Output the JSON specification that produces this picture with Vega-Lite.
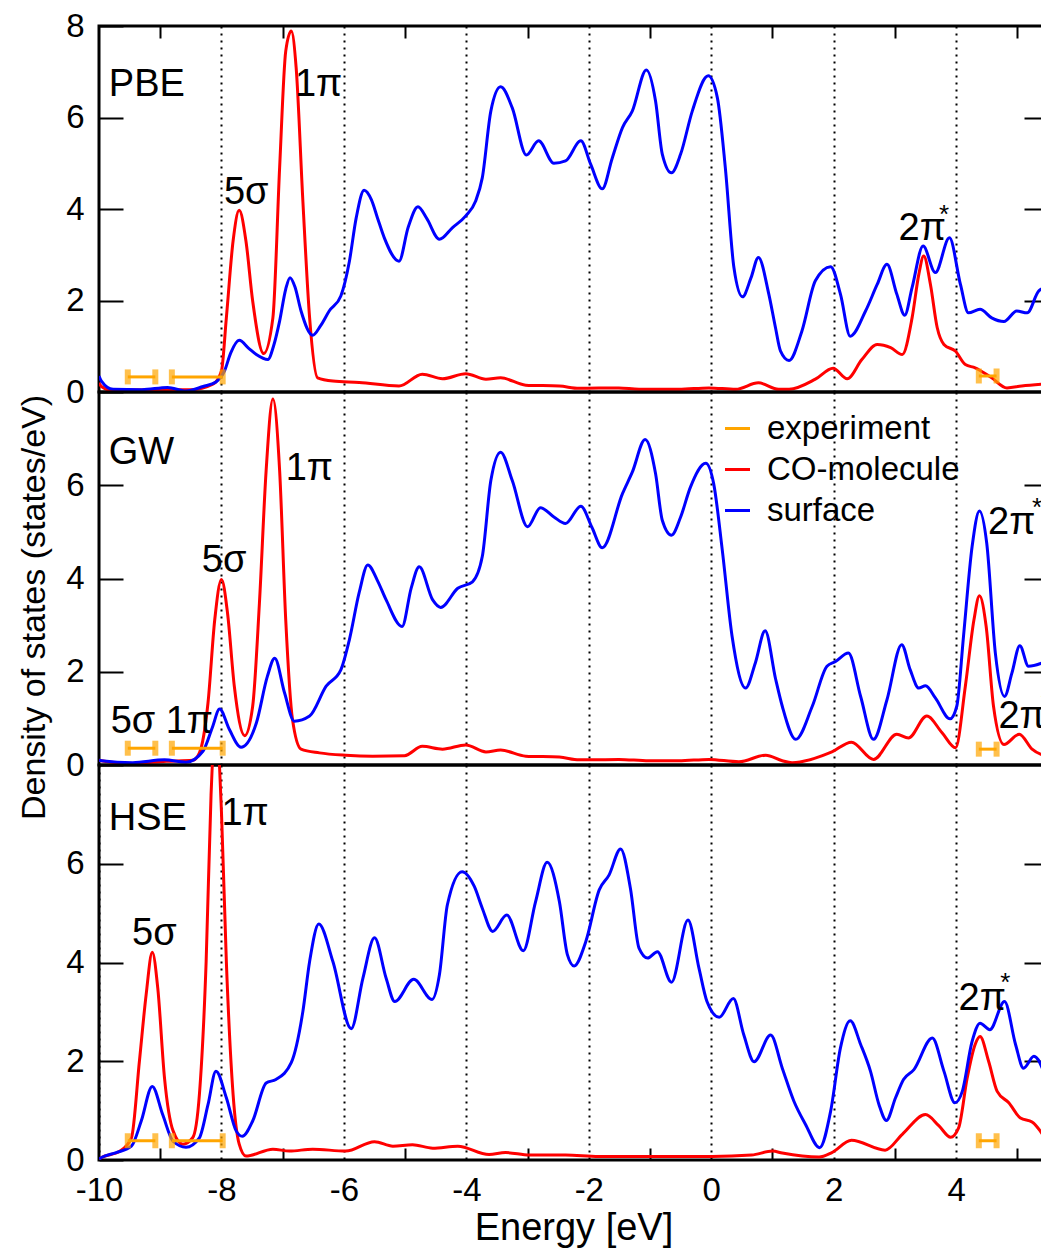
{
  "$schema": "https://vega.github.io/schema/vega-lite/v6.json",
  "padding": {"left": 16, "top": 8, "right": 0, "bottom": 0},
  "spacing": 0,
  "bounds": "flush",
  "background": "white",
  "config": {
    "view": {"stroke": "black", "strokeWidth": 3},
    "font": "Liberation Sans",
    "axis": {"domain": false, "grid": false, "labelFont": "Liberation Sans", "labelFontSize": 33, "labelColor": "black", "tickColor": "black", "tickWidth": 2, "labelFlush": false, "labelOverlap": false, "titleFont": "Liberation Sans", "titleFontWeight": "normal", "titleColor": "black", "gridColor": "black", "gridOpacity": 1, "gridDash": [2, 5], "gridWidth": 2},
    "legend": {"labelFont": "Liberation Sans", "labelFontSize": 33, "labelColor": "black"}
  },
  "resolve": {"legend": {"color": "independent"}},
  "datasets": {
    "pbe_surf": [
      {"e": -10, "dos": 0.35}, {"e": -9.96, "dos": 0.24}, {"e": -9.77, "dos": 0.06}, {"e": -9.3, "dos": 0.05}, {"e": -8.88, "dos": 0.1}, {"e": -8.58, "dos": 0.02}, {"e": -8.3, "dos": 0.12}, {"e": -8.09, "dos": 0.22}, {"e": -7.95, "dos": 0.46}, {"e": -7.85, "dos": 0.85}, {"e": -7.71, "dos": 1.13}, {"e": -7.55, "dos": 0.95}, {"e": -7.43, "dos": 0.82}, {"e": -7.24, "dos": 0.71}, {"e": -7.15, "dos": 1.0}, {"e": -7.05, "dos": 1.55}, {"e": -6.95, "dos": 2.25}, {"e": -6.88, "dos": 2.5}, {"e": -6.8, "dos": 2.3}, {"e": -6.7, "dos": 1.77}, {"e": -6.51, "dos": 1.24}, {"e": -6.38, "dos": 1.45}, {"e": -6.24, "dos": 1.77}, {"e": -6.05, "dos": 2.1}, {"e": -5.91, "dos": 2.86}, {"e": -5.8, "dos": 3.8}, {"e": -5.67, "dos": 4.41}, {"e": -5.55, "dos": 4.2}, {"e": -5.45, "dos": 3.8}, {"e": -5.34, "dos": 3.37}, {"e": -5.1, "dos": 2.86}, {"e": -4.95, "dos": 3.6}, {"e": -4.79, "dos": 4.05}, {"e": -4.65, "dos": 3.8}, {"e": -4.44, "dos": 3.34}, {"e": -4.23, "dos": 3.59}, {"e": -4.01, "dos": 3.85}, {"e": -3.85, "dos": 4.17}, {"e": -3.74, "dos": 4.68}, {"e": -3.6, "dos": 6.14}, {"e": -3.44, "dos": 6.67}, {"e": -3.25, "dos": 6.21}, {"e": -3.02, "dos": 5.18}, {"e": -2.82, "dos": 5.49}, {"e": -2.57, "dos": 5.0}, {"e": -2.38, "dos": 5.05}, {"e": -2.13, "dos": 5.49}, {"e": -1.97, "dos": 4.98}, {"e": -1.78, "dos": 4.44}, {"e": -1.62, "dos": 5.1}, {"e": -1.45, "dos": 5.78}, {"e": -1.29, "dos": 6.14}, {"e": -1.06, "dos": 7.04}, {"e": -0.91, "dos": 6.36}, {"e": -0.8, "dos": 5.2}, {"e": -0.65, "dos": 4.79}, {"e": -0.5, "dos": 5.2}, {"e": -0.31, "dos": 6.14}, {"e": -0.05, "dos": 6.91}, {"e": 0.1, "dos": 6.43}, {"e": 0.23, "dos": 4.9}, {"e": 0.37, "dos": 2.72}, {"e": 0.51, "dos": 2.08}, {"e": 0.65, "dos": 2.5}, {"e": 0.77, "dos": 2.94}, {"e": 0.94, "dos": 2.14}, {"e": 1.05, "dos": 1.4}, {"e": 1.13, "dos": 0.9}, {"e": 1.27, "dos": 0.69}, {"e": 1.48, "dos": 1.33}, {"e": 1.7, "dos": 2.43}, {"e": 1.95, "dos": 2.74}, {"e": 2.11, "dos": 2.14}, {"e": 2.27, "dos": 1.22}, {"e": 2.52, "dos": 1.77}, {"e": 2.71, "dos": 2.35}, {"e": 2.87, "dos": 2.79}, {"e": 3.03, "dos": 2.14}, {"e": 3.16, "dos": 1.68}, {"e": 3.28, "dos": 2.28}, {"e": 3.46, "dos": 3.19}, {"e": 3.66, "dos": 2.61}, {"e": 3.89, "dos": 3.37}, {"e": 4.07, "dos": 2.35}, {"e": 4.2, "dos": 1.73}, {"e": 4.39, "dos": 1.81}, {"e": 4.58, "dos": 1.62}, {"e": 4.78, "dos": 1.54}, {"e": 4.99, "dos": 1.77}, {"e": 5.16, "dos": 1.73}, {"e": 5.35, "dos": 2.21}, {"e": 5.5, "dos": 2.3}
    ],
    "pbe_co": [
      {"e": -10, "dos": 0.2}, {"e": -9.96, "dos": 0.12}, {"e": -9.8, "dos": 0.04}, {"e": -9.0, "dos": 0.05}, {"e": -8.5, "dos": 0.05}, {"e": -8.14, "dos": 0.17}, {"e": -8.0, "dos": 0.46}, {"e": -7.92, "dos": 1.62}, {"e": -7.81, "dos": 3.3}, {"e": -7.71, "dos": 3.97}, {"e": -7.6, "dos": 3.3}, {"e": -7.49, "dos": 1.99}, {"e": -7.31, "dos": 0.84}, {"e": -7.16, "dos": 1.62}, {"e": -7.05, "dos": 4.9}, {"e": -6.95, "dos": 7.45}, {"e": -6.86, "dos": 7.89}, {"e": -6.78, "dos": 7.09}, {"e": -6.67, "dos": 4.17}, {"e": -6.56, "dos": 1.62}, {"e": -6.43, "dos": 0.31}, {"e": -6.18, "dos": 0.24}, {"e": -5.75, "dos": 0.21}, {"e": -5.1, "dos": 0.13}, {"e": -4.72, "dos": 0.39}, {"e": -4.39, "dos": 0.29}, {"e": -4.01, "dos": 0.4}, {"e": -3.68, "dos": 0.28}, {"e": -3.44, "dos": 0.31}, {"e": -3.03, "dos": 0.15}, {"e": -2.48, "dos": 0.13}, {"e": -2.16, "dos": 0.08}, {"e": -1.51, "dos": 0.09}, {"e": -1.18, "dos": 0.06}, {"e": -0.53, "dos": 0.06}, {"e": -0.04, "dos": 0.09}, {"e": 0.4, "dos": 0.06}, {"e": 0.77, "dos": 0.2}, {"e": 1.1, "dos": 0.06}, {"e": 1.27, "dos": 0.06}, {"e": 1.7, "dos": 0.28}, {"e": 1.99, "dos": 0.52}, {"e": 2.22, "dos": 0.29}, {"e": 2.46, "dos": 0.71}, {"e": 2.71, "dos": 1.04}, {"e": 2.93, "dos": 0.97}, {"e": 3.12, "dos": 0.82}, {"e": 3.28, "dos": 1.62}, {"e": 3.39, "dos": 2.57}, {"e": 3.47, "dos": 2.97}, {"e": 3.58, "dos": 2.35}, {"e": 3.69, "dos": 1.41}, {"e": 3.8, "dos": 1.04}, {"e": 3.99, "dos": 0.89}, {"e": 4.15, "dos": 0.6}, {"e": 4.31, "dos": 0.53}, {"e": 4.58, "dos": 0.31}, {"e": 4.83, "dos": 0.09}, {"e": 5.07, "dos": 0.13}, {"e": 5.5, "dos": 0.18}
    ],
    "gw_surf": [
      {"e": -10, "dos": 0.1}, {"e": -9.96, "dos": 0.09}, {"e": -9.45, "dos": 0.05}, {"e": -8.93, "dos": 0.11}, {"e": -8.58, "dos": 0.06}, {"e": -8.3, "dos": 0.3}, {"e": -8.15, "dos": 0.8}, {"e": -8.03, "dos": 1.2}, {"e": -7.87, "dos": 0.76}, {"e": -7.68, "dos": 0.38}, {"e": -7.43, "dos": 0.9}, {"e": -7.25, "dos": 1.9}, {"e": -7.13, "dos": 2.29}, {"e": -6.97, "dos": 1.55}, {"e": -6.81, "dos": 0.94}, {"e": -6.56, "dos": 1.05}, {"e": -6.29, "dos": 1.69}, {"e": -6.05, "dos": 2.04}, {"e": -5.91, "dos": 2.69}, {"e": -5.75, "dos": 3.7}, {"e": -5.61, "dos": 4.29}, {"e": -5.45, "dos": 3.95}, {"e": -5.31, "dos": 3.54}, {"e": -5.05, "dos": 2.97}, {"e": -4.9, "dos": 3.8}, {"e": -4.77, "dos": 4.25}, {"e": -4.55, "dos": 3.54}, {"e": -4.42, "dos": 3.38}, {"e": -4.14, "dos": 3.79}, {"e": -3.9, "dos": 3.93}, {"e": -3.74, "dos": 4.47}, {"e": -3.6, "dos": 6.1}, {"e": -3.44, "dos": 6.71}, {"e": -3.25, "dos": 6.1}, {"e": -3.0, "dos": 5.11}, {"e": -2.79, "dos": 5.52}, {"e": -2.57, "dos": 5.32}, {"e": -2.38, "dos": 5.18}, {"e": -2.13, "dos": 5.55}, {"e": -1.95, "dos": 5.1}, {"e": -1.78, "dos": 4.66}, {"e": -1.45, "dos": 5.82}, {"e": -1.29, "dos": 6.28}, {"e": -1.08, "dos": 6.98}, {"e": -0.91, "dos": 6.25}, {"e": -0.8, "dos": 5.25}, {"e": -0.65, "dos": 4.93}, {"e": -0.5, "dos": 5.32}, {"e": -0.34, "dos": 5.96}, {"e": -0.09, "dos": 6.47}, {"e": 0.04, "dos": 6.03}, {"e": 0.18, "dos": 4.61}, {"e": 0.34, "dos": 2.76}, {"e": 0.56, "dos": 1.65}, {"e": 0.72, "dos": 2.19}, {"e": 0.88, "dos": 2.88}, {"e": 1.05, "dos": 1.85}, {"e": 1.16, "dos": 1.26}, {"e": 1.38, "dos": 0.55}, {"e": 1.65, "dos": 1.26}, {"e": 1.89, "dos": 2.12}, {"e": 2.03, "dos": 2.22}, {"e": 2.24, "dos": 2.4}, {"e": 2.44, "dos": 1.47}, {"e": 2.65, "dos": 0.55}, {"e": 2.87, "dos": 1.4}, {"e": 3.11, "dos": 2.58}, {"e": 3.25, "dos": 2.04}, {"e": 3.39, "dos": 1.65}, {"e": 3.5, "dos": 1.7}, {"e": 3.66, "dos": 1.44}, {"e": 3.9, "dos": 0.99}, {"e": 4.01, "dos": 1.26}, {"e": 4.12, "dos": 2.76}, {"e": 4.26, "dos": 4.68}, {"e": 4.38, "dos": 5.45}, {"e": 4.5, "dos": 4.75}, {"e": 4.64, "dos": 2.4}, {"e": 4.79, "dos": 1.47}, {"e": 4.91, "dos": 1.97}, {"e": 5.04, "dos": 2.56}, {"e": 5.18, "dos": 2.12}, {"e": 5.5, "dos": 2.24}
    ],
    "gw_co": [
      {"e": -10, "dos": 0.1}, {"e": -9.96, "dos": 0.09}, {"e": -9.5, "dos": 0.03}, {"e": -8.9, "dos": 0.08}, {"e": -8.47, "dos": 0.1}, {"e": -8.36, "dos": 0.26}, {"e": -8.22, "dos": 1.33}, {"e": -8.11, "dos": 3.11}, {"e": -8.0, "dos": 3.98}, {"e": -7.9, "dos": 3.25}, {"e": -7.79, "dos": 1.69}, {"e": -7.62, "dos": 0.63}, {"e": -7.49, "dos": 1.26}, {"e": -7.38, "dos": 3.47}, {"e": -7.27, "dos": 6.32}, {"e": -7.16, "dos": 7.85}, {"e": -7.05, "dos": 6.32}, {"e": -6.95, "dos": 3.11}, {"e": -6.84, "dos": 0.98}, {"e": -6.7, "dos": 0.34}, {"e": -6.4, "dos": 0.26}, {"e": -5.97, "dos": 0.21}, {"e": -5.53, "dos": 0.19}, {"e": -5.01, "dos": 0.2}, {"e": -4.72, "dos": 0.4}, {"e": -4.39, "dos": 0.34}, {"e": -4.01, "dos": 0.43}, {"e": -3.68, "dos": 0.28}, {"e": -3.44, "dos": 0.32}, {"e": -3.03, "dos": 0.19}, {"e": -2.48, "dos": 0.17}, {"e": -2.16, "dos": 0.11}, {"e": -1.51, "dos": 0.12}, {"e": -1.02, "dos": 0.09}, {"e": -0.53, "dos": 0.09}, {"e": -0.04, "dos": 0.12}, {"e": 0.45, "dos": 0.07}, {"e": 0.89, "dos": 0.21}, {"e": 1.16, "dos": 0.09}, {"e": 1.32, "dos": 0.05}, {"e": 1.97, "dos": 0.28}, {"e": 2.29, "dos": 0.49}, {"e": 2.65, "dos": 0.12}, {"e": 3.03, "dos": 0.66}, {"e": 3.22, "dos": 0.58}, {"e": 3.52, "dos": 1.05}, {"e": 3.77, "dos": 0.69}, {"e": 3.99, "dos": 0.37}, {"e": 4.15, "dos": 1.69}, {"e": 4.29, "dos": 3.11}, {"e": 4.38, "dos": 3.63}, {"e": 4.49, "dos": 2.97}, {"e": 4.61, "dos": 1.26}, {"e": 4.78, "dos": 0.44}, {"e": 5.03, "dos": 0.66}, {"e": 5.24, "dos": 0.34}, {"e": 5.5, "dos": 0.17}
    ],
    "hse_surf": [
      {"e": -10, "dos": 0.02}, {"e": -9.96, "dos": 0.05}, {"e": -9.72, "dos": 0.15}, {"e": -9.47, "dos": 0.28}, {"e": -9.31, "dos": 0.79}, {"e": -9.13, "dos": 1.49}, {"e": -8.96, "dos": 0.92}, {"e": -8.79, "dos": 0.38}, {"e": -8.58, "dos": 0.26}, {"e": -8.36, "dos": 0.45}, {"e": -8.22, "dos": 1.12}, {"e": -8.09, "dos": 1.8}, {"e": -7.92, "dos": 1.26}, {"e": -7.76, "dos": 0.59}, {"e": -7.66, "dos": 0.48}, {"e": -7.49, "dos": 0.79}, {"e": -7.27, "dos": 1.56}, {"e": -7.11, "dos": 1.63}, {"e": -6.86, "dos": 1.97}, {"e": -6.67, "dos": 3.01}, {"e": -6.56, "dos": 4.02}, {"e": -6.41, "dos": 4.78}, {"e": -6.18, "dos": 4.02}, {"e": -5.88, "dos": 2.66}, {"e": -5.69, "dos": 3.68}, {"e": -5.5, "dos": 4.5}, {"e": -5.31, "dos": 3.68}, {"e": -5.17, "dos": 3.21}, {"e": -4.86, "dos": 3.66}, {"e": -4.56, "dos": 3.25}, {"e": -4.44, "dos": 3.75}, {"e": -4.31, "dos": 5.17}, {"e": -4.07, "dos": 5.84}, {"e": -3.87, "dos": 5.54}, {"e": -3.74, "dos": 5.1}, {"e": -3.57, "dos": 4.63}, {"e": -3.34, "dos": 4.96}, {"e": -3.07, "dos": 4.24}, {"e": -2.87, "dos": 5.23}, {"e": -2.68, "dos": 6.03}, {"e": -2.48, "dos": 5.23}, {"e": -2.35, "dos": 4.16}, {"e": -2.24, "dos": 3.93}, {"e": -2.05, "dos": 4.42}, {"e": -1.83, "dos": 5.47}, {"e": -1.67, "dos": 5.77}, {"e": -1.48, "dos": 6.3}, {"e": -1.32, "dos": 5.5}, {"e": -1.18, "dos": 4.29}, {"e": -1.04, "dos": 4.09}, {"e": -0.88, "dos": 4.22}, {"e": -0.65, "dos": 3.6}, {"e": -0.38, "dos": 4.86}, {"e": -0.2, "dos": 3.88}, {"e": -0.07, "dos": 3.21}, {"e": 0.13, "dos": 2.89}, {"e": 0.36, "dos": 3.27}, {"e": 0.53, "dos": 2.54}, {"e": 0.7, "dos": 1.99}, {"e": 0.97, "dos": 2.53}, {"e": 1.16, "dos": 1.86}, {"e": 1.35, "dos": 1.19}, {"e": 1.54, "dos": 0.72}, {"e": 1.77, "dos": 0.25}, {"e": 1.95, "dos": 0.99}, {"e": 2.11, "dos": 2.27}, {"e": 2.27, "dos": 2.82}, {"e": 2.44, "dos": 2.34}, {"e": 2.6, "dos": 1.8}, {"e": 2.74, "dos": 1.12}, {"e": 2.86, "dos": 0.8}, {"e": 3.01, "dos": 1.26}, {"e": 3.14, "dos": 1.63}, {"e": 3.31, "dos": 1.83}, {"e": 3.61, "dos": 2.47}, {"e": 3.8, "dos": 1.8}, {"e": 3.98, "dos": 1.16}, {"e": 4.1, "dos": 1.39}, {"e": 4.26, "dos": 2.4}, {"e": 4.39, "dos": 2.77}, {"e": 4.55, "dos": 2.64}, {"e": 4.79, "dos": 3.21}, {"e": 4.97, "dos": 2.34}, {"e": 5.1, "dos": 1.86}, {"e": 5.27, "dos": 2.1}, {"e": 5.5, "dos": 1.55}
    ],
    "hse_co": [
      {"e": -10, "dos": 0.02}, {"e": -9.96, "dos": 0.05}, {"e": -9.66, "dos": 0.18}, {"e": -9.47, "dos": 0.45}, {"e": -9.34, "dos": 2.0}, {"e": -9.23, "dos": 3.35}, {"e": -9.13, "dos": 4.21}, {"e": -9.04, "dos": 3.48}, {"e": -8.93, "dos": 1.66}, {"e": -8.79, "dos": 0.59}, {"e": -8.63, "dos": 0.32}, {"e": -8.47, "dos": 0.45}, {"e": -8.36, "dos": 1.33}, {"e": -8.25, "dos": 4.02}, {"e": -8.17, "dos": 7.39}, {"e": -8.09, "dos": 8.9}, {"e": -8.0, "dos": 7.05}, {"e": -7.92, "dos": 4.02}, {"e": -7.81, "dos": 1.33}, {"e": -7.71, "dos": 0.32}, {"e": -7.6, "dos": 0.08}, {"e": -7.16, "dos": 0.22}, {"e": -6.89, "dos": 0.18}, {"e": -6.51, "dos": 0.22}, {"e": -5.97, "dos": 0.18}, {"e": -5.5, "dos": 0.37}, {"e": -5.2, "dos": 0.28}, {"e": -4.88, "dos": 0.31}, {"e": -4.55, "dos": 0.24}, {"e": -4.14, "dos": 0.28}, {"e": -3.63, "dos": 0.11}, {"e": -3.36, "dos": 0.15}, {"e": -2.97, "dos": 0.1}, {"e": -2.38, "dos": 0.1}, {"e": -1.84, "dos": 0.07}, {"e": -1.02, "dos": 0.07}, {"e": 0.01, "dos": 0.07}, {"e": 0.66, "dos": 0.1}, {"e": 1.0, "dos": 0.18}, {"e": 1.16, "dos": 0.14}, {"e": 1.76, "dos": 0.06}, {"e": 1.97, "dos": 0.15}, {"e": 2.29, "dos": 0.4}, {"e": 2.84, "dos": 0.2}, {"e": 3.12, "dos": 0.52}, {"e": 3.5, "dos": 0.92}, {"e": 3.72, "dos": 0.69}, {"e": 3.91, "dos": 0.46}, {"e": 4.04, "dos": 0.65}, {"e": 4.18, "dos": 1.66}, {"e": 4.31, "dos": 2.34}, {"e": 4.39, "dos": 2.5}, {"e": 4.53, "dos": 2.0}, {"e": 4.67, "dos": 1.39}, {"e": 4.86, "dos": 1.16}, {"e": 5.05, "dos": 0.85}, {"e": 5.24, "dos": 0.77}, {"e": 5.5, "dos": 0.35}
    ],
    "exp_pbe": [{"lo": -9.53, "hi": -9.08, "y": 0.33}, {"lo": -8.81, "hi": -7.98, "y": 0.33}, {"lo": 4.37, "hi": 4.66, "y": 0.35}],
    "exp_gw": [{"lo": -9.53, "hi": -9.08, "y": 0.36}, {"lo": -8.81, "hi": -7.98, "y": 0.36}, {"lo": 4.37, "hi": 4.66, "y": 0.34}],
    "exp_hse": [{"lo": -9.53, "hi": -9.08, "y": 0.39}, {"lo": -8.81, "hi": -7.98, "y": 0.39}, {"lo": 4.37, "hi": 4.66, "y": 0.39}],
    "lab_pbe": [{"e": -9.84, "dos": 6.47, "t": "PBE"}, {"e": -7.96, "dos": 4.11, "t": "5σ"}, {"e": -6.8, "dos": 6.47, "t": "1π"}, {"e": 3.06, "dos": 3.32, "t": "2π"}],
    "ast_pbe": [{"e": 3.72, "dos": 3.7, "t": "*"}],
    "lab_gw": [{"e": -9.84, "dos": 6.45, "t": "GW"}, {"e": -8.32, "dos": 4.15, "t": "5σ"}, {"e": -6.95, "dos": 6.11, "t": "1π"}, {"e": -9.81, "dos": 0.68, "t": "5σ"}, {"e": -8.91, "dos": 0.68, "t": "1π"}, {"e": 4.52, "dos": 4.96, "t": "2π"}, {"e": 4.69, "dos": 0.8, "t": "2π"}],
    "ast_gw": [{"e": 5.24, "dos": 5.33, "t": "*"}, {"e": 5.38, "dos": 1.15, "t": "*"}],
    "lab_hse": [{"e": -9.84, "dos": 6.69, "t": "HSE"}, {"e": -8.0, "dos": 6.79, "t": "1π"}, {"e": -9.46, "dos": 4.36, "t": "5σ"}, {"e": 4.04, "dos": 3.04, "t": "2π"}],
    "ast_hse": [{"e": 4.72, "dos": 3.42, "t": "*"}]
  },
  "vconcat": [
    {
      "width": 949, "height": 366,
      "resolve": {"axis": {"x": "independent", "y": "independent"}},
      "layer": [
        {
          "data": {"name": "pbe_co"},
          "mark": {"type": "line", "interpolate": "monotone", "strokeWidth": 3, "clip": true},
          "encoding": {
            "x": {"field": "e", "type": "quantitative", "scale": {"domain": [-10, 5.5], "nice": false, "zero": false},
                  "axis": {"orient": "bottom", "values": [-8, -6, -4, -2, 0, 2, 4], "grid": true, "ticks": false, "labels": false, "title": null}},
            "y": {"field": "dos", "type": "quantitative", "scale": {"domain": [0, 8], "nice": false, "zero": false},
                  "axis": {"orient": "left", "values": [0, 2, 4, 6, 8], "tickSize": -24, "labelPadding": 39, "title": null}},
            "color": {"datum": "CO-molecule", "type": "nominal", "scale": {"domain": ["experiment", "CO-molecule", "surface"], "range": ["#FFA500", "#FF0000", "#0000FF"]}, "legend": null}
          }
        },
        {
          "data": {"name": "pbe_surf"},
          "mark": {"type": "line", "interpolate": "monotone", "strokeWidth": 3, "clip": true},
          "encoding": {
            "x": {"field": "e", "type": "quantitative", "axis": {"orient": "top", "values": [-9, -7, -5, -3, -1, 1, 3, 5], "tickSize": -12, "labels": false, "title": null}},
            "y": {"field": "dos", "type": "quantitative", "axis": {"orient": "right", "values": [2, 4, 6], "tickSize": -24, "labels": false, "title": null}},
            "color": {"datum": "surface", "type": "nominal", "legend": null}
          }
        },
        {
          "data": {"name": "exp_pbe"},
          "mark": {"type": "errorbar", "color": "#FFA500", "thickness": 3, "ticks": {"size": 15, "thickness": 6, "color": "#FFA500"}},
          "encoding": {
            "x": {"field": "lo", "type": "quantitative", "axis": null},
            "x2": {"field": "hi"},
            "y": {"field": "y", "type": "quantitative", "axis": null}
          }
        },
        {
          "data": {"name": "lab_pbe"},
          "mark": {"type": "text", "align": "left", "baseline": "alphabetic", "fontSize": 38, "font": "Liberation Sans", "color": "black", "clip": true},
          "encoding": {
            "x": {"field": "e", "type": "quantitative", "axis": null},
            "y": {"field": "dos", "type": "quantitative", "axis": null},
            "text": {"field": "t", "type": "nominal"}
          }
        },
        {
          "data": {"name": "ast_pbe"},
          "mark": {"type": "text", "align": "left", "baseline": "alphabetic", "fontSize": 26, "font": "Liberation Sans", "color": "black", "clip": true},
          "encoding": {
            "x": {"field": "e", "type": "quantitative", "axis": null},
            "y": {"field": "dos", "type": "quantitative", "axis": null},
            "text": {"field": "t", "type": "nominal"}
          }
        }
      ]
    },
    {
      "width": 949, "height": 373,
      "resolve": {"axis": {"x": "independent", "y": "independent"}},
      "layer": [
        {
          "data": {"name": "gw_co"},
          "mark": {"type": "line", "interpolate": "monotone", "strokeWidth": 3, "clip": true},
          "encoding": {
            "x": {"field": "e", "type": "quantitative", "scale": {"domain": [-10, 5.5], "nice": false, "zero": false},
                  "axis": {"orient": "bottom", "values": [-8, -6, -4, -2, 0, 2, 4], "grid": true, "ticks": false, "labels": false, "title": null}},
            "y": {"field": "dos", "type": "quantitative", "scale": {"domain": [0, 8], "nice": false, "zero": false},
                  "axis": {"orient": "left", "values": [0, 2, 4, 6], "tickSize": -24, "labelPadding": 39, "title": "Density of states (states/eV)", "titleFontSize": 34, "titlePadding": 14, "titleY": 215}},
            "color": {"datum": "CO-molecule", "type": "nominal", "scale": {"domain": ["experiment", "CO-molecule", "surface"], "range": ["#FFA500", "#FF0000", "#0000FF"]},
                      "legend": {"orient": "none", "legendX": 622, "legendY": 20, "title": null, "symbolType": "stroke", "symbolSize": 625, "symbolStrokeWidth": 3, "labelFontSize": 33, "labelOffset": 13, "rowPadding": 7, "padding": 0, "labelLimit": 0}}
          }
        },
        {
          "data": {"name": "gw_surf"},
          "mark": {"type": "line", "interpolate": "monotone", "strokeWidth": 3, "clip": true},
          "encoding": {
            "x": {"field": "e", "type": "quantitative", "axis": null},
            "y": {"field": "dos", "type": "quantitative", "axis": {"orient": "right", "values": [2, 4, 6], "tickSize": -24, "labels": false, "title": null}},
            "color": {"datum": "surface", "type": "nominal",
                      "legend": {"orient": "none", "legendX": 622, "legendY": 20, "title": null, "symbolType": "stroke", "symbolSize": 625, "symbolStrokeWidth": 3, "labelFontSize": 33, "labelOffset": 13, "rowPadding": 7, "padding": 0, "labelLimit": 0}}
          }
        },
        {
          "data": {"name": "exp_gw"},
          "mark": {"type": "errorbar", "color": "#FFA500", "thickness": 3, "ticks": {"size": 15, "thickness": 6, "color": "#FFA500"}},
          "encoding": {
            "x": {"field": "lo", "type": "quantitative", "axis": null},
            "x2": {"field": "hi"},
            "y": {"field": "y", "type": "quantitative", "axis": null}
          }
        },
        {
          "data": {"name": "lab_gw"},
          "mark": {"type": "text", "align": "left", "baseline": "alphabetic", "fontSize": 38, "font": "Liberation Sans", "color": "black", "clip": true},
          "encoding": {
            "x": {"field": "e", "type": "quantitative", "axis": null},
            "y": {"field": "dos", "type": "quantitative", "axis": null},
            "text": {"field": "t", "type": "nominal"}
          }
        },
        {
          "data": {"name": "ast_gw"},
          "mark": {"type": "text", "align": "left", "baseline": "alphabetic", "fontSize": 26, "font": "Liberation Sans", "color": "black", "clip": true},
          "encoding": {
            "x": {"field": "e", "type": "quantitative", "axis": null},
            "y": {"field": "dos", "type": "quantitative", "axis": null},
            "text": {"field": "t", "type": "nominal"}
          }
        }
      ]
    },
    {
      "width": 949, "height": 395,
      "resolve": {"axis": {"x": "independent", "y": "independent"}},
      "layer": [
        {
          "data": {"name": "hse_co"},
          "mark": {"type": "line", "interpolate": "monotone", "strokeWidth": 3, "clip": true},
          "encoding": {
            "x": {"field": "e", "type": "quantitative", "scale": {"domain": [-10, 5.5], "nice": false, "zero": false},
                  "axis": {"orient": "bottom", "values": [-10, -8, -6, -4, -2, 0, 2, 4], "grid": true, "ticks": false, "labels": true, "labelExpr": "replace(datum.label, '−', '-')", "labelPadding": 14, "title": "Energy [eV]", "titleFontSize": 38, "titlePadding": 2}},
            "y": {"field": "dos", "type": "quantitative", "scale": {"domain": [0, 8], "nice": false, "zero": false},
                  "axis": {"orient": "left", "values": [0, 2, 4, 6], "tickSize": -24, "labelPadding": 39, "title": null}},
            "color": {"datum": "CO-molecule", "type": "nominal", "scale": {"domain": ["experiment", "CO-molecule", "surface"], "range": ["#FFA500", "#FF0000", "#0000FF"]}, "legend": null}
          }
        },
        {
          "data": {"name": "hse_surf"},
          "mark": {"type": "line", "interpolate": "monotone", "strokeWidth": 3, "clip": true},
          "encoding": {
            "x": {"field": "e", "type": "quantitative", "axis": {"orient": "bottom", "values": [-9, -7, -5, -3, -1, 1, 3, 5], "tickSize": -12, "labels": false, "title": null}},
            "y": {"field": "dos", "type": "quantitative", "axis": {"orient": "right", "values": [2, 4, 6], "tickSize": -24, "labels": false, "title": null}},
            "color": {"datum": "surface", "type": "nominal", "legend": null}
          }
        },
        {
          "data": {"name": "exp_hse"},
          "mark": {"type": "errorbar", "color": "#FFA500", "thickness": 3, "ticks": {"size": 15, "thickness": 6, "color": "#FFA500"}},
          "encoding": {
            "x": {"field": "lo", "type": "quantitative", "axis": null},
            "x2": {"field": "hi"},
            "y": {"field": "y", "type": "quantitative", "axis": null}
          }
        },
        {
          "data": {"name": "lab_hse"},
          "mark": {"type": "text", "align": "left", "baseline": "alphabetic", "fontSize": 38, "font": "Liberation Sans", "color": "black", "clip": true},
          "encoding": {
            "x": {"field": "e", "type": "quantitative", "axis": null},
            "y": {"field": "dos", "type": "quantitative", "axis": null},
            "text": {"field": "t", "type": "nominal"}
          }
        },
        {
          "data": {"name": "ast_hse"},
          "mark": {"type": "text", "align": "left", "baseline": "alphabetic", "fontSize": 26, "font": "Liberation Sans", "color": "black", "clip": true},
          "encoding": {
            "x": {"field": "e", "type": "quantitative", "axis": null},
            "y": {"field": "dos", "type": "quantitative", "axis": null},
            "text": {"field": "t", "type": "nominal"}
          }
        }
      ]
    }
  ]
}
